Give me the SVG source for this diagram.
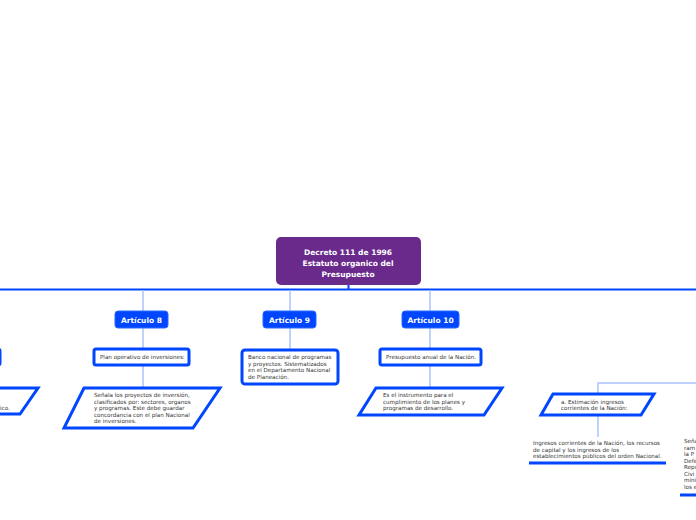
<svg xmlns="http://www.w3.org/2000/svg" width="696" height="520" viewBox="0 0 696 520">
<style>
.t{font-family:"DejaVu Sans",sans-serif;font-size:5.6px;fill:#333}
.h{font-family:"DejaVu Sans",sans-serif;font-size:7.5px;font-weight:bold;fill:#fff;text-anchor:middle}
.b{fill:#fff;stroke:#0046ff;stroke-width:3}
.a{fill:#0046ff;stroke:#2d6bff;stroke-width:1}
.c{fill:none;stroke:#a9c2ff;stroke-width:1.5}
.m{fill:none;stroke:#0046ff;stroke-width:2}
</style>
<g id="connectors">
<path class="m" d="M0 289.5H696M348.5 284V289.5"/>
<path class="c" d="M143 290V311M143 328V349M143 366V388M290 290V311M290 328V350M430 290V311M430 328V349M430 366V388M598 394V383H696M598 416V437"/>
</g>
<g id="root"><rect x="276" y="237" width="145" height="48" rx="5" fill="#6a2a8c"/>
<text class="h" font-size="9" x="348" y="255">Decreto 111 de 1996</text><text class="h" font-size="9" x="348" y="266">Estatuto organico del</text><text class="h" font-size="9" x="348" y="277">Presupuesto</text></g>
<g id="a8"><rect class="a" x="115" y="311" width="53" height="17" rx="3"/><text class="h" x="141.5" y="322.5">Artículo 8</text></g>
<g id="a9"><rect class="a" x="263" y="311" width="53" height="17" rx="3"/><text class="h" x="289.5" y="322.5">Artículo 9</text></g>
<g id="a10"><rect class="a" x="402" y="311" width="57" height="17" rx="3"/><text class="h" x="430.5" y="322.5">Artículo 10</text></g>
<g id="n8a"><rect class="b" x="94" y="349" width="95" height="16" rx="2"/><text class="t" x="100" y="359">Plan operativo de inversiones:</text></g>
<g id="n8b"><polygon class="b" points="84,388 220,388 193,428 64,428"/><text class="t" x="94" y="397">Señala los proyectos de inversión,</text><text class="t" x="94" y="403.5">clasificados por: sectores, organos</text><text class="t" x="94" y="410">y programas. Este debe guardar</text><text class="t" x="94" y="416.5">concordancia con el plan Nacional</text><text class="t" x="94" y="423">de inversiones.</text></g>
<g id="n9"><rect class="b" x="242" y="350" width="96" height="34" rx="3"/><text class="t" x="248" y="359">Banco nacional de programas</text><text class="t" x="248" y="365.5">y proyectos. Sistematizados</text><text class="t" x="248" y="372">en el Departamento Nacional</text><text class="t" x="248" y="378.5">de Planeación.</text></g>
<g id="n10a"><rect class="b" x="380" y="349" width="101" height="16" rx="2"/><text class="t" x="386" y="359">Presupuesto anual de la Nación.</text></g>
<g id="n10b"><polygon class="b" points="376,388 502,388 484,415 359,415"/><text class="t" x="383" y="397">Es el instrumento para el</text><text class="t" x="383" y="403.5">cumplimiento de los planes y</text><text class="t" x="383" y="410">programas de desarrollo.</text></g>
<g id="est"><polygon class="b" points="553,394 654,394 641,415 541,415"/><text class="t" x="561" y="404">a. Estimación ingresos</text><text class="t" x="561" y="410">corrientes de la Nación:</text></g>
<g id="ing"><text class="t" x="533" y="445">Ingresos corrientes de la Nación, los recursos</text><text class="t" x="533" y="451.5">de capital y los ingresos de los</text><text class="t" x="533" y="458">establecimientos públicos del orden Nacional.</text><path d="M529 463H666" stroke="#0046ff" stroke-width="3"/></g>
<g id="sen"><text class="t" x="684" y="443">Seña</text><text class="t" x="684" y="449.5">ram</text><text class="t" x="684" y="456">la P</text><text class="t" x="684" y="462.5">Defe</text><text class="t" x="684" y="469">Repú</text><text class="t" x="684" y="475.5">Civi</text><text class="t" x="684" y="482">mini</text><text class="t" x="684" y="488.5">los e</text><path d="M680 495H696" stroke="#0046ff" stroke-width="3"/></g>
<g id="left1"><rect class="b" x="-20" y="349" width="20" height="16" rx="2"/></g>
<g id="left2"><polygon class="b" points="-60,388 38,388 20,414 -80,414"/><text class="t" x="0" y="410">ico.</text></g>
</svg>
